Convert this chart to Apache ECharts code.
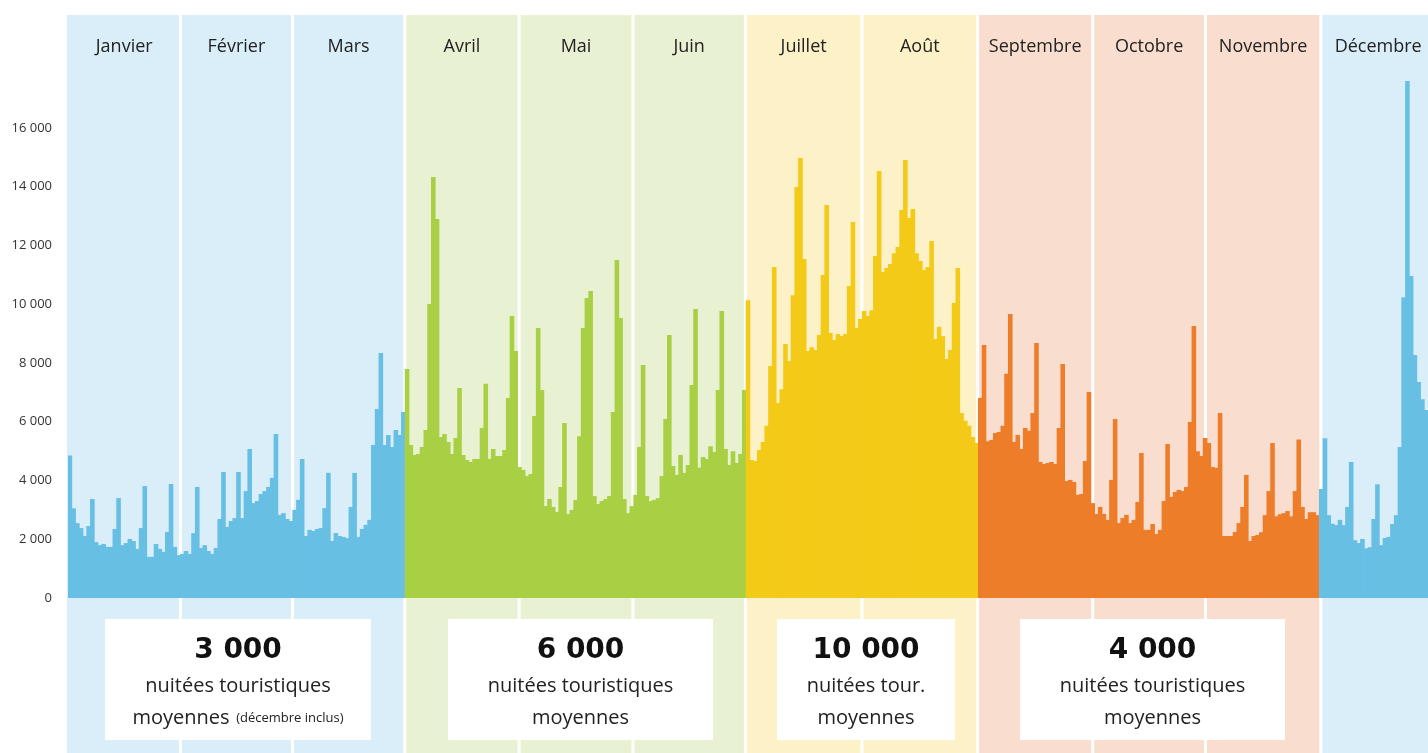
<!DOCTYPE html>
<html><head><meta charset="utf-8">
<script src="https://cdn.jsdelivr.net/npm/echarts@6/dist/echarts.min.js"></script>
<style>html,body{margin:0;padding:0;background:#fff;overflow:hidden}#c{width:1428px;height:753px}</style>
</head><body><div id="c"></div>
<script>
const monthNames = ['Janvier','Février','Mars','Avril','Mai','Juin','Juillet','Août','Septembre','Octobre','Novembre','Décembre'];
const monthSeason = [0,0,0,1,1,1,2,2,3,3,3,0];
// band edges (in days) of the month background panels, as drawn in the source
const bandEdges = [0,30,59.9,89.9,120.4,150.8,180.8,211.9,242.8,273.5,303.6,334.4,365];

const jan = [4850,3050,2550,2380,2110,2450,3370,1900,1800,1840,1740,1740,2350,3400,1800,1870,2010,1940,1670,2380,3810,1400,1400,1840,1670,1570,2250,3880,1740,1460,1500];
const feb = [1600,1500,2210,3780,1700,1800,1600,1500,1700,2690,4290,2420,2620,2720,4290,2720,3640,5070,3230,3300,3540,3640,3780,4090,5580,2830,2890,2690];
const mar = [2620,3000,3340,4730,2110,2320,2280,2350,2380,3060,4260,1940,2210,2110,2080,2040,3100,4260,2080,2350,2490,2660,5210,6430,8340,5210,5550,5140,5720,5550,6330];
const apr = [7800,5210,4870,4900,5140,5720,10010,14330,12900,5480,5580,5310,4900,5450,7150,4870,4700,4630,4730,4730,5790,7290,4730,5070,4830,4830,5040,6810,9600,8410];
const may = [4460,4360,4150,4220,6200,9190,7080,3130,3370,3100,2930,3780,5960,2860,3000,3340,5510,9190,10210,10450,3470,3200,3300,3370,3470,6330,11510,9530,3370,2890,3130];
const jun = [3510,5140,7930,3470,3300,3340,3400,4150,6090,8950,4490,4190,4870,4260,4530,7250,9840,4430,4800,4730,5170,4970,7080,9770,5070,4530,5000,4600,4900,7080];
const jul = [10140,4700,4660,5040,5310,5860,7900,11270,6640,7110,8650,8070,10310,13990,14980,11540,8410,8540,8440,8950,11000,13380,9020,8780,8990,8920,8990,10620,12800,9190,9500];
const aug = [9770,9600,9800,11640,14540,11100,11230,11370,11740,11950,13210,14910,12940,13240,11740,11470,11170,11270,12150,8820,9230,8920,8140,8440,10040,11230,6300,6030,5860,5480,5280];
const sep = [6810,8610,5340,5380,5620,5650,5860,7630,9670,5310,5550,5070,5790,5690,6300,8680,4630,4560,4600,4630,4560,5790,7970,3980,4020,3950,3510,3540,4660,7010];
const oct = [3230,2860,3100,2860,2660,4020,6090,2550,2720,2830,2550,2660,3270,4940,2320,2320,2520,2180,2320,3300,5240,3440,3610,3680,3640,3780,5990,9260,5000,4830,5450];
const nov = [5280,4460,4430,6300,2110,2110,2110,2250,2550,3100,4190,1940,2110,2145,2240,2820,3640,5280,2780,2850,2890,2960,2780,3640,5400,3100,2690,2920,2920,2820];
const dec = [3710,5440,2820,2530,2480,2660,2480,3100,4630,1970,1870,2010,1690,1730,2690,3870,1800,2040,2080,2520,2820,5140,10240,17600,10960,8270,7350,6770,6400];

const yMax = 18000, yStep = 2000;
const averages = ['3 000','6 000','10 000','4 000'];
const boxLine2 = ['nuitées touristiques','nuitées touristiques','nuitées tour.','nuitées touristiques'];
const boxNote = ['(décembre inclus)','','',''];

const barColors = ['#68bfe4','#a9d044','#f4ca18','#ee7d2a'];
const bandColors = ['#d9eef9','#e8f2d2','#fdf2c7','#f9decf'];

const months = [jan,feb,mar,apr,may,jun,jul,aug,sep,oct,nov,dec];
const values = [], monthOfDay = [], cats = [];
months.forEach((arr, m) => arr.forEach((v, i) => { values.push(v); monthOfDay.push(m); cats.push((i+1) + ' ' + monthNames[m]); }));

const bands = monthNames.map((n, m) => [bandEdges[m], bandEdges[m+1], monthSeason[m], m]);

const fmt = v => String(v).replace(/\B(?=(\d{3})+(?!\d))/g, ' ');
const dayW = 3.75, pxPer1000 = 29.375;

const boxes = [{x:105,w:266},{x:448,w:265},{x:777,w:178},{x:1020,w:265}];
const graphic = [];
boxes.forEach((b, i) => {
  const cx = b.x + b.w / 2;
  graphic.push({type:'rect', z:100, shape:{x:b.x, y:619, width:b.w, height:121}, style:{fill:'#ffffff'}});
  graphic.push({type:'text', z:101, style:{text:averages[i], x:cx, y:651, font:'bold 28px "DejaVu Sans"', fill:'#111', align:'center', verticalAlign:'middle', textAlign:'center', textVerticalAlign:'middle'}});
  graphic.push({type:'text', z:101, style:{text:boxLine2[i], x:cx, y:686, font:'20px "Open Sans"', fill:'#222', align:'center', verticalAlign:'middle', textAlign:'center', textVerticalAlign:'middle'}});
  const t3 = boxNote[i] ? '{a|moyennes}  {b|' + boxNote[i] + '}' : '{a|moyennes}';
  graphic.push({type:'text', z:101, style:{text:t3, x:cx, y:718, align:'center', verticalAlign:'middle', textAlign:'center', textVerticalAlign:'middle',
    rich:{a:{fontSize:20, fontFamily:'Open Sans', fill:'#222', color:'#222'}, b:{fontSize:13, fontFamily:'Open Sans', fill:'#222', color:'#222'}}}});
});

const chart = echarts.init(document.getElementById('c'), null, {renderer:'canvas'});
chart.setOption({
  animation:false,
  backgroundColor:'#ffffff',
  grid:{left:68, top:598 - yMax / 1000 * pxPer1000, width: values.length * dayW, height: yMax / 1000 * pxPer1000, containLabel:false},
  xAxis:[
    {type:'category', data:cats, show:false, boundaryGap:true},
    {type:'value', min:0, max:values.length, show:false}
  ],
  yAxis:{type:'value', min:0, max:yMax, interval:yStep,
    axisLine:{show:false}, axisTick:{show:false}, splitLine:{show:false},
    axisLabel:{showMaxLabel:false, formatter:fmt, color:'#333', fontSize:13, fontFamily:'Open Sans', margin:16}},
  series:[
    {type:'custom', xAxisIndex:1, yAxisIndex:0, z:0, silent:true, clip:false,
      encode:{x:[0,1], y:2},
      data:bands,
      renderItem:(params, api) => {
        const s = api.value(0), e = api.value(1), season = api.value(2), m = api.value(3);
        const x0 = api.coord([s, 0])[0], x1 = api.coord([e, 0])[0];
        const gl = m === 0 ? -1 : 1.5;
        return {type:'group', children:[
          {type:'rect', shape:{x:x0 + gl, y:15, width:x1 - x0 - gl - 1.5, height:738}, style:{fill:bandColors[season]}},
          {type:'text', style:{text:monthNames[m], x:(x0 + x1) / 2, y:47, align:'center', verticalAlign:'middle', fill:'#222', font:'18px "Open Sans"'}}
        ]};
      }
    },
    {type:'bar', xAxisIndex:0, yAxisIndex:0, z:2, barWidth:4.6, barGap:'-100%', silent:true,
      data: values.map((v, i) => ({value:v, itemStyle:{color:barColors[monthSeason[monthOfDay[i]]]}}))
    }
  ],
  graphic: graphic
});
</script></body></html>
